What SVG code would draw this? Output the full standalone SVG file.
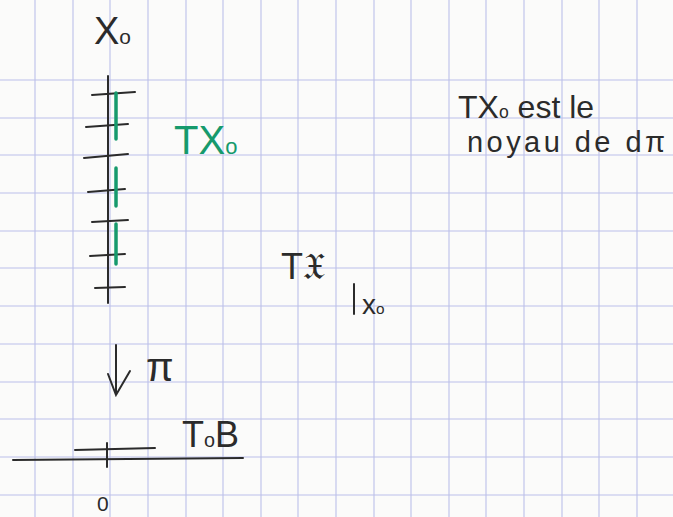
<svg xmlns="http://www.w3.org/2000/svg" width="673" height="517" viewBox="0 0 673 517">
<style>
.grid line{stroke:#bcc0ea;stroke-width:1.1}
.ink{font-family:"Liberation Sans","DejaVu Sans",sans-serif;fill:#2b2b2b}
.g{fill:#169a6c}
.s{stroke:#2b2b2b;fill:none;stroke-linecap:round;stroke-width:2}
.gs{stroke:#169a6c;fill:none;stroke-linecap:round;stroke-width:3.5}
.sub{font-size:0.55em}
</style>
<rect width="673" height="517" fill="#fbfbfa"/>
<g class="grid">
<line x1="35" y1="0" x2="35" y2="517"/><line x1="73" y1="0" x2="73" y2="517"/><line x1="110" y1="0" x2="110" y2="517"/><line x1="148" y1="0" x2="148" y2="517"/><line x1="186" y1="0" x2="186" y2="517"/><line x1="223" y1="0" x2="223" y2="517"/><line x1="261" y1="0" x2="261" y2="517"/><line x1="298" y1="0" x2="298" y2="517"/><line x1="336" y1="0" x2="336" y2="517"/><line x1="374" y1="0" x2="374" y2="517"/><line x1="411" y1="0" x2="411" y2="517"/><line x1="449" y1="0" x2="449" y2="517"/><line x1="486" y1="0" x2="486" y2="517"/><line x1="524" y1="0" x2="524" y2="517"/><line x1="562" y1="0" x2="562" y2="517"/><line x1="599" y1="0" x2="599" y2="517"/><line x1="637" y1="0" x2="637" y2="517"/>
<line x1="0" y1="80" x2="673" y2="80"/><line x1="0" y1="118" x2="673" y2="118"/><line x1="0" y1="155" x2="673" y2="155"/><line x1="0" y1="193" x2="673" y2="193"/><line x1="0" y1="231" x2="673" y2="231"/><line x1="0" y1="268" x2="673" y2="268"/><line x1="0" y1="306" x2="673" y2="306"/><line x1="0" y1="344" x2="673" y2="344"/><line x1="0" y1="382" x2="673" y2="382"/><line x1="0" y1="419" x2="673" y2="419"/><line x1="0" y1="457" x2="673" y2="457"/><line x1="0" y1="495" x2="673" y2="495"/>
</g>
<g id="fiber">
<text class="ink" x="94" y="44" font-size="38">X<tspan class="sub">o</tspan></text>
<line class="s" x1="108" y1="76" x2="108" y2="303" stroke-width="2.5"/>
<line class="s" x1="92" y1="95" x2="135" y2="92"/>
<line class="s" x1="86" y1="127" x2="128" y2="124"/>
<line class="s" x1="84" y1="158" x2="128" y2="154"/>
<line class="s" x1="88" y1="192" x2="125" y2="189"/>
<line class="s" x1="92" y1="222" x2="128" y2="220"/>
<line class="s" x1="90" y1="256" x2="125" y2="254"/>
<line class="s" x1="95" y1="288" x2="125" y2="287"/>
<line class="gs" x1="116" y1="93" x2="116" y2="139"/>
<line class="gs" x1="116" y1="168" x2="116" y2="206"/>
<line class="gs" x1="116" y1="224" x2="116" y2="264"/>
</g>
<g id="TX0">
<text class="ink g" x="174" y="154" font-size="40">TX<tspan class="sub">o</tspan></text>
</g>
<g id="TXhat">
<text class="ink" x="281" y="279" font-size="36">T𝔛</text>
<line class="s" x1="354" y1="284" x2="354" y2="314"/>
<text class="ink" x="362" y="314" font-size="28">x<tspan class="sub">o</tspan></text>
</g>
<g id="note">
<text class="ink" x="458" y="118" font-size="32">TX<tspan class="sub">o</tspan> est le</text>
<text class="ink" x="467" y="152" font-size="29" textLength="198" lengthAdjust="spacing">noyau de dπ</text>
</g>
<g id="base">
<line class="s" x1="13" y1="460" x2="243" y2="458"/>
<line class="s" x1="75" y1="450" x2="155" y2="448"/>
<line class="s" x1="107" y1="443" x2="107" y2="467"/>
<text class="ink" x="182" y="447" font-size="36">T<tspan class="sub">o</tspan>B</text>
<text class="ink" x="97" y="511" font-size="21">0</text>
</g>
<g id="connectors">
<path class="s" d="M116 345 L116 395 M108 374 L116 395 L130 371"/>
<text class="ink" x="146" y="381" font-size="40">π</text>
</g>
</svg>
